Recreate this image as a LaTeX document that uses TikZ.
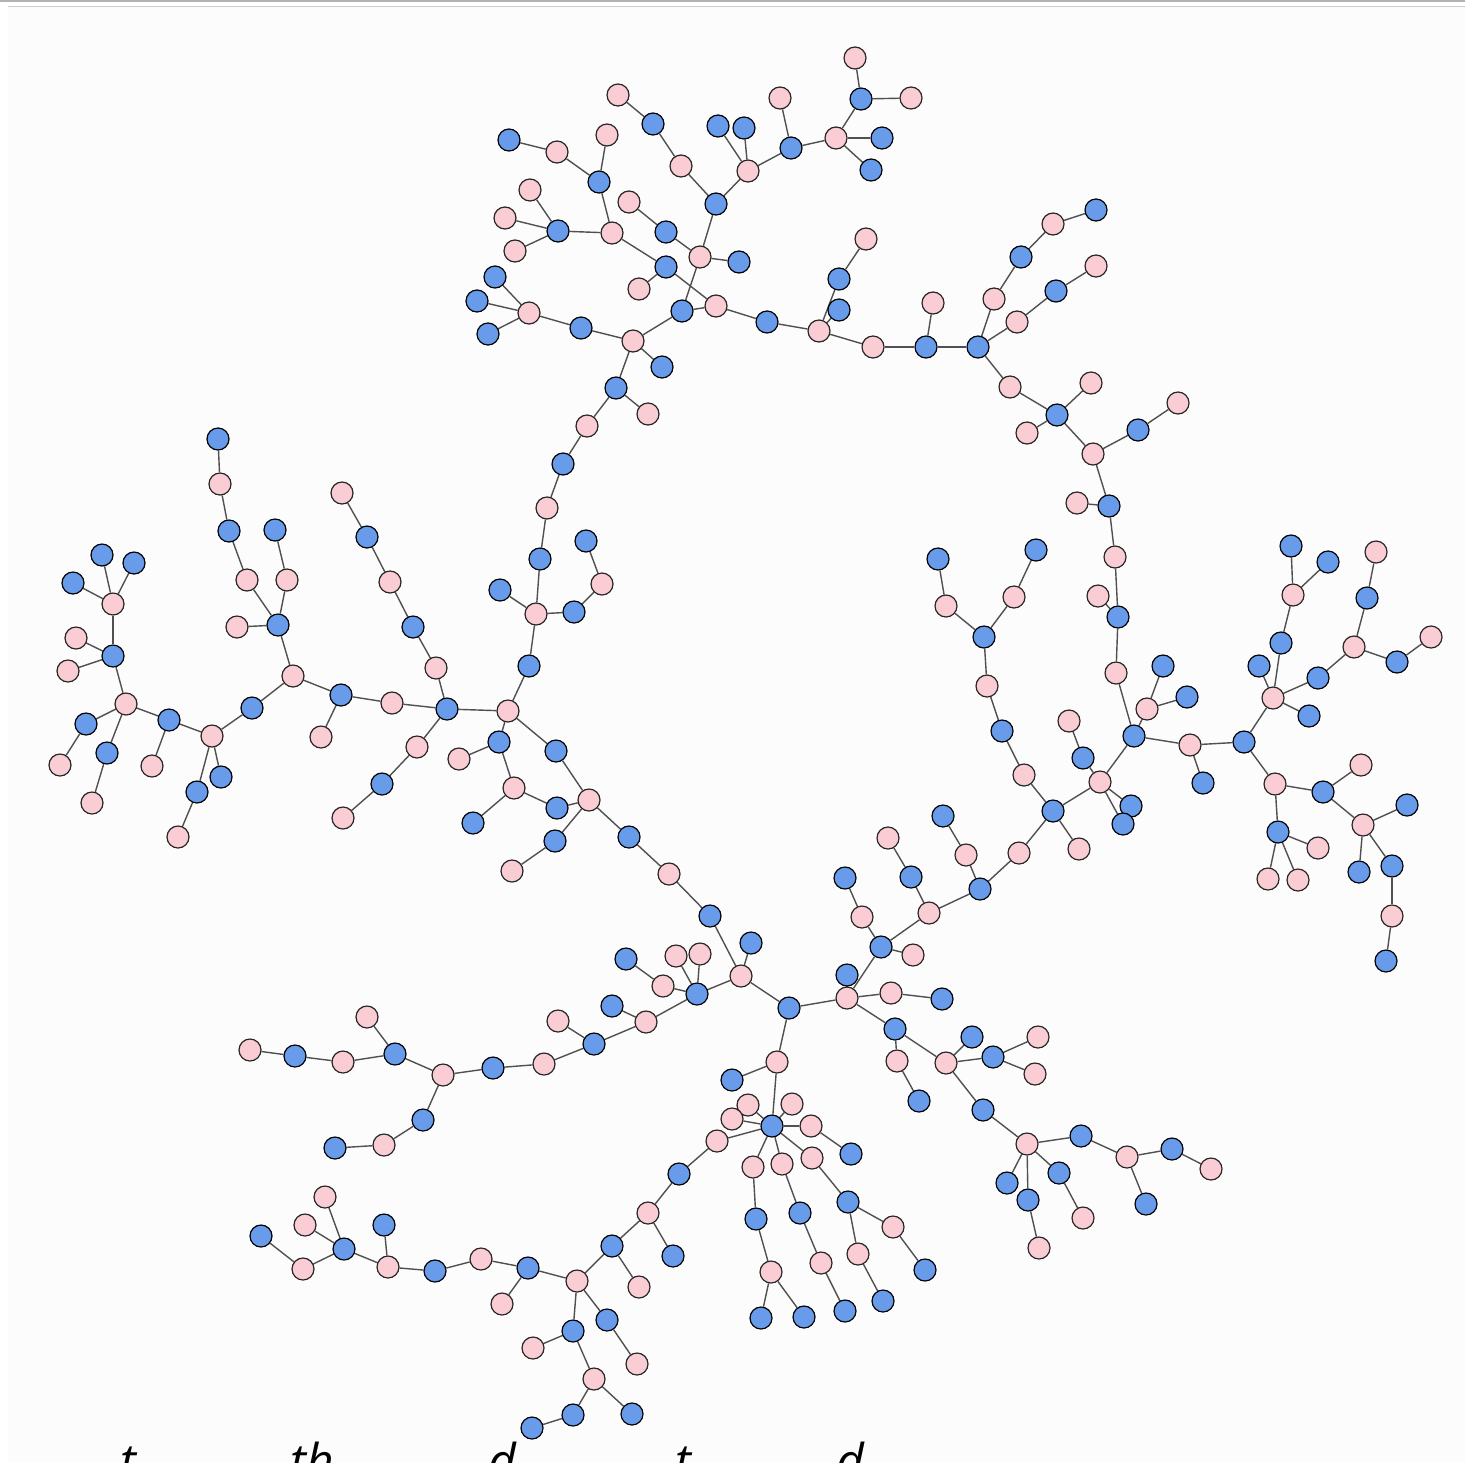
\documentclass[tikz,border=0pt]{standalone}
\usepackage{fontspec}
\newfontfamily\capfont{Open Sans}
\usetikzlibrary{backgrounds}
\definecolor{nblue}{RGB}{104,156,234}
\definecolor{npink}{RGB}{250,204,211}
\definecolor{edgec}{RGB}{80,80,80}
\definecolor{panel}{RGB}{252,252,252}
\tikzset{
  bnode/.style={circle,draw=black,line width=0.6pt,fill=nblue,minimum size=11pt,inner sep=0pt},
  pnode/.style={circle,draw=black!85,line width=0.6pt,fill=npink,minimum size=11pt,inner sep=0pt},
  link/.style={draw=edgec,line width=0.7pt},
  captxt/.style={anchor=base,inner sep=0pt,font=\capfont\itshape\fontsize{24pt}{28pt}\selectfont}
}
\newcommand{\pn}[2]{\node[pnode] (n#1x#2) at (#1,#2) {};}
\newcommand{\bn}[2]{\node[bnode] (n#1x#2) at (#1,#2) {};}
\begin{document}
\begin{tikzpicture}[x=0.5pt,y=-0.5pt]
\useasboundingbox (0,0) rectangle (1465,1462);
% pink nodes
\foreach \x/\y in {855/58,911/98,780/98,618/95,836/138,557/152,607/135,681/166,748/171,530/190,629/202,505/218,612/233,515/251,700/257,866/239,639/289,529/313,633/341,716/306,819/331,873/347,933/303,
1053/224,1096/266,994/299,1017/322,1010/387,1091/383,1027/433,1178/403,1093/454,1077/503,1115/557,1098/596,1116/673,1147/709,1190/745,
1376/552,1293/595,1354/647,1431/637,1273/698,1275/784,1361/765,1363/825,1318/848,1268/879,1298/880,1392/916,
946/606,1014/597,987/686,1069/721,1024/775,1100/782,1079/849,1019/853,888/838,966/855,929/913,862/917,913/955,847/998,891/993,897/1061,946/1063,1038/1037,1035/1074,1027/1144,1127/1157,1211/1169,1083/1218,1039/1248,
741/976,669/874,589/800,512/871,676/956,700/954,663/986,646/1022,558/1021,544/1064,443/1075,367/1017,343/1062,250/1050,384/1145,777/1062,
748/1105,792/1104,732/1119,811/1126,717/1141,753/1167,782/1164,812/1158,648/1213,639/1287,577/1281,502/1304,533/1348,637/1364,594/1379,893/1227,858/1254,821/1263,771/1272,
325/1197,305/1225,303/1269,388/1267,481/1259,
220/484,247/580,287/580,237/627,293/676,392/703,321/737,212/736,126/704,152/766,178/837,60/765,92/803,113/604,76/638,68/671,342/493,390/582,436/668,417/747,343/818,459/759,508/711,514/788,536/614,602/584,547/508,587/426,648/414}
  {\pn{\x}{\y}}
% blue nodes
\foreach \x/\y in {861/99,653/124,718/126,744/128,882/138,509/140,791/148,871/170,599/182,716/204,558/231,666/232,739/262,666/267,839/279,495/277,477/301,581/328,488/334,682/311,767/322,839/310,926/347,978/347,662/367,
1096/210,1021/257,1056/291,1057/415,1138/430,1109/506,1118/617,1163/666,1187/697,1134/736,1203/783,1244/742,
1291/546,1328/562,1367/598,1281/643,1259/666,1397/662,1318/678,1309/716,1323/792,1407/805,1278/832,1359/872,1392/866,1386/961,
938/559,1036/550,984/637,1002/731,1083/758,1131/806,1123/824,1053/811,943/816,911/877,980/889,845/878,881/947,847/975,942/999,895/1029,972/1037,993/1057,919/1101,983/1110,1081/1136,1172/1149,1007/1183,1028/1200,1059/1173,1146/1204,
789/1008,751/943,710/916,629/837,556/751,557/808,555/841,697/994,626/959,612/1006,594/1044,493/1068,395/1054,295/1056,423/1120,335/1148,732/1080,
772/1126,851/1154,679/1174,612/1246,673/1256,528/1268,573/1331,607/1320,573/1415,532/1428,632/1414,848/1202,925/1270,883/1301,845/1311,800/1213,756/1219,761/1318,804/1317,
384/1225,261/1236,344/1249,435/1271,
218/439,229/531,275/530,278/625,341/695,447/709,252/708,169/720,221/777,197/792,86/724,107/753,102/555,134/563,73/583,113/656,367/537,413/627,382/784,499/742,473/823,500/590,574/612,586/541,540/559,563/464,616/388,529/666}
  {\bn{\x}{\y}}
% cut-off caption letters at the bottom edge
\begin{scope}
\clip (0,0) rectangle (1465,1462);
\node[captxt] (c1) at (128,1478) {t};
\node[captxt] (c2) at (312,1478) {th};
\node[captxt] (c3) at (502,1478) {d};
\node[captxt] (c4) at (683,1478) {t};
\node[captxt] (c5) at (850,1478) {d};
\end{scope}
\begin{pgfonlayer}{background}
\fill[white] (0,0) rectangle (1465,1462);
\fill[panel] (8,6) rectangle (1465,1462);
\draw[black!30,line width=0.6pt] (0,1) -- (1465,1);
\draw[black!20,line width=0.5pt] (8,6) -- (1465,6);
\foreach \a/\b in {855x58/861x99,861x99/911x98,861x99/836x138,836x138/882x138,836x138/871x170,836x138/791x148,791x148/780x98,791x148/748x171,748x171/718x126,748x171/744x128,748x171/716x204,716x204/681x166,681x166/653x124,653x124/618x95,716x204/700x257,700x257/739x262,700x257/666x232,666x232/629x202,700x257/682x311,682x311/716x306,682x311/633x341,716x306/666x267,666x267/639x289,666x267/612x233,612x233/599x182,599x182/607x135,599x182/557x152,557x152/509x140,612x233/558x231,558x231/530x190,558x231/505x218,558x231/515x251,633x341/581x328,581x328/529x313,529x313/495x277,529x313/477x301,529x313/488x334,633x341/662x367,633x341/616x388,716x306/767x322,767x322/819x331,819x331/839x310,819x331/839x279,839x279/866x239,819x331/873x347,873x347/926x347,926x347/933x303,926x347/978x347,
978x347/994x299,994x299/1021x257,1021x257/1053x224,1053x224/1096x210,978x347/1017x322,1017x322/1056x291,1056x291/1096x266,978x347/1010x387,1010x387/1057x415,1057x415/1091x383,1057x415/1027x433,1057x415/1093x454,1093x454/1138x430,1138x430/1178x403,1093x454/1109x506,1109x506/1077x503,1109x506/1115x557,1115x557/1118x617,1118x617/1098x596,1118x617/1116x673,1116x673/1134x736,1134x736/1147x709,1147x709/1163x666,1147x709/1187x697,1134x736/1190x745,1190x745/1244x742,1190x745/1203x783,1134x736/1100x782,
1244x742/1273x698,1273x698/1259x666,1273x698/1281x643,1281x643/1293x595,1293x595/1291x546,1293x595/1328x562,1273x698/1318x678,1318x678/1354x647,1354x647/1367x598,1367x598/1376x552,1354x647/1397x662,1397x662/1431x637,1273x698/1309x716,1244x742/1275x784,1275x784/1323x792,1323x792/1361x765,1323x792/1363x825,1363x825/1407x805,1363x825/1359x872,1363x825/1392x866,1392x866/1392x916,1392x916/1386x961,1275x784/1278x832,1278x832/1318x848,1278x832/1268x879,1278x832/1298x880,
938x559/946x606,946x606/984x637,1036x550/1014x597,1014x597/984x637,984x637/987x686,987x686/1002x731,1002x731/1024x775,1024x775/1053x811,1069x721/1083x758,1083x758/1100x782,1100x782/1131x806,1100x782/1123x824,1100x782/1053x811,1053x811/1079x849,1053x811/1019x853,1019x853/980x889,966x855/980x889,943x816/966x855,980x889/929x913,929x913/911x877,911x877/888x838,929x913/881x947,881x947/862x917,862x917/845x878,881x947/913x955,881x947/847x998,847x998/847x975,847x998/891x993,891x993/942x999,847x998/789x1008,847x998/895x1029,895x1029/897x1061,897x1061/919x1101,895x1029/946x1063,946x1063/972x1037,946x1063/993x1057,993x1057/1038x1037,993x1057/1035x1074,946x1063/983x1110,983x1110/1027x1144,1027x1144/1081x1136,1081x1136/1127x1157,1127x1157/1172x1149,1172x1149/1211x1169,1127x1157/1146x1204,1027x1144/1007x1183,1027x1144/1028x1200,1028x1200/1039x1248,1027x1144/1059x1173,1059x1173/1083x1218,
741x976/710x916,710x916/669x874,669x874/629x837,629x837/589x800,589x800/556x751,556x751/508x711,589x800/557x808,589x800/555x841,555x841/512x871,508x711/499x742,499x742/459x759,499x742/514x788,514x788/473x823,514x788/557x808,741x976/751x943,741x976/697x994,741x976/789x1008,697x994/676x956,697x994/700x954,697x994/663x986,663x986/626x959,697x994/646x1022,646x1022/612x1006,646x1022/594x1044,594x1044/558x1021,594x1044/544x1064,544x1064/493x1068,493x1068/443x1075,443x1075/395x1054,395x1054/367x1017,395x1054/343x1062,343x1062/295x1056,295x1056/250x1050,443x1075/423x1120,423x1120/384x1145,384x1145/335x1148,789x1008/777x1062,777x1062/732x1080,777x1062/772x1126,
218x439/220x484,220x484/229x531,229x531/247x580,247x580/278x625,275x530/287x580,287x580/278x625,278x625/237x627,278x625/293x676,293x676/252x708,252x708/212x736,293x676/341x695,341x695/321x737,341x695/392x703,392x703/447x709,342x493/367x537,367x537/390x582,390x582/413x627,413x627/436x668,436x668/447x709,447x709/508x711,447x709/417x747,417x747/382x784,382x784/343x818,212x736/169x720,169x720/126x704,169x720/152x766,212x736/221x777,212x736/197x792,197x792/178x837,126x704/113x656,113x656/76x638,113x656/68x671,113x656/113x604,113x604/102x555,113x604/134x563,113x604/73x583,126x704/86x724,86x724/60x765,126x704/107x753,107x753/92x803,
616x388/648x414,616x388/587x426,587x426/563x464,563x464/547x508,547x508/540x559,540x559/536x614,536x614/500x590,536x614/574x612,574x612/602x584,602x584/586x541,536x614/529x666,529x666/508x711,
772x1126/748x1105,772x1126/792x1104,772x1126/732x1119,772x1126/811x1126,772x1126/717x1141,772x1126/753x1167,772x1126/782x1164,772x1126/812x1158,
717x1141/679x1174,679x1174/648x1213,648x1213/673x1256,648x1213/612x1246,612x1246/639x1287,612x1246/577x1281,577x1281/528x1268,528x1268/481x1259,528x1268/502x1304,577x1281/573x1331,573x1331/533x1348,573x1331/594x1379,594x1379/573x1415,573x1415/532x1428,594x1379/632x1414,577x1281/607x1320,607x1320/637x1364,753x1167/756x1219,756x1219/771x1272,771x1272/761x1318,771x1272/804x1317,782x1164/800x1213,800x1213/821x1263,821x1263/845x1311,812x1158/848x1202,848x1202/893x1227,893x1227/925x1270,848x1202/858x1254,858x1254/883x1301,811x1126/851x1154,
481x1259/435x1271,435x1271/388x1267,388x1267/384x1225,388x1267/344x1249,344x1249/325x1197,344x1249/305x1225,344x1249/303x1269,303x1269/261x1236}
{\draw[link] (n\a) -- (n\b);}
\end{pgfonlayer}
\end{tikzpicture}
\end{document}
